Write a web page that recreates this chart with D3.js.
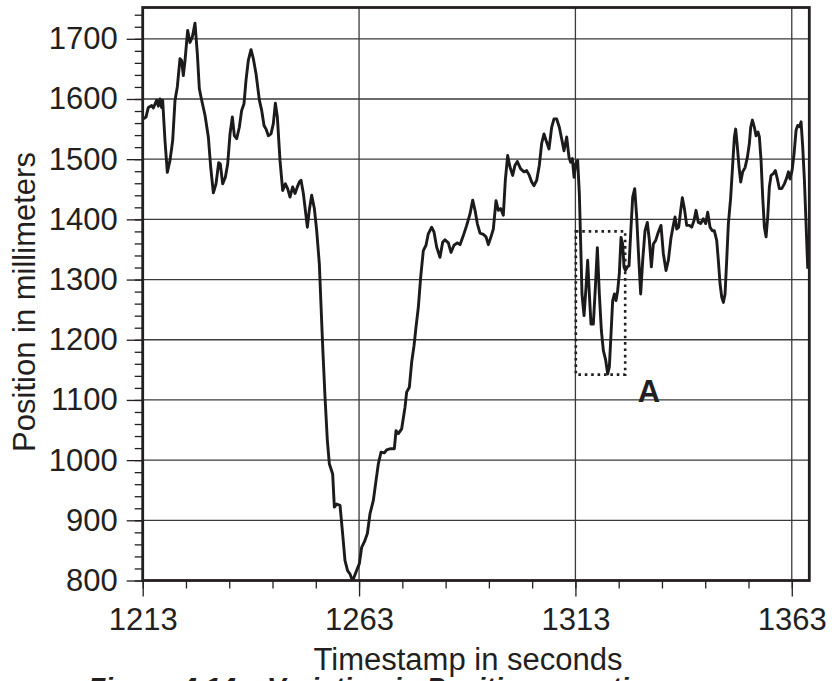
<!DOCTYPE html>
<html>
<head>
<meta charset="utf-8">
<title>Position in millimeters</title>
<script src="https://cdn.jsdelivr.net/npm/d3@7"></script>
<style>
  html, body { margin: 0; padding: 0; background: #fff; }
  svg { display: block; }
  text { font-family: "Liberation Sans", Arial, sans-serif; fill: #231f20; }
</style>
</head>
<body>
<div id="chart"></div>
<script>
  "use strict"

  // samples, seconds / millimetres
  var timeSec = [
    1213.15, 1213.76, 1214.3, 1215.07, 1215.46, 1216.23, 1216.61, 1217.0, 1217.38, 1217.61
  , 1218.15, 1218.69, 1219.31, 1219.93, 1220.47, 1221.0, 1221.62, 1222.0, 1222.39, 1222.78
  , 1223.39, 1223.93, 1224.47, 1225.09, 1225.63, 1226.09, 1226.63, 1227.4, 1228.17, 1228.71
  , 1229.33, 1229.94, 1230.56, 1230.94, 1231.48, 1232.1, 1232.64, 1233.18, 1233.72, 1234.18
  , 1234.72, 1235.33, 1235.87, 1236.41, 1236.87, 1237.41, 1238.03, 1238.57, 1239.19, 1239.96
  , 1240.5, 1241.04, 1241.5, 1242.04, 1242.65, 1243.19, 1243.66, 1244.12, 1244.73, 1245.35
  , 1245.97, 1246.5, 1247.04, 1247.66, 1248.2, 1248.74, 1249.2, 1249.59, 1250.13, 1250.51
    // the big dip
  , 1251.05, 1251.5, 1252.05, 1252.67, 1253.2, 1253.82, 1254.13, 1254.6, 1255.13, 1255.67
  , 1256.13, 1256.9, 1257.29, 1257.83, 1258.6, 1259.2, 1259.75, 1260.37, 1260.9, 1261.5
  , 1262.3, 1263.07, 1263.6, 1264.22, 1264.92, 1265.53, 1266.3, 1266.92, 1267.46, 1268.07
  , 1268.84, 1269.38, 1270.31, 1271.16, 1271.54, 1272.08, 1272.85, 1273.62, 1274.0, 1274.62
  , 1275.16, 1275.7, 1276.16, 1276.7
    // climb back
  , 1277.24, 1277.85, 1278.47, 1279.0, 1279.78, 1280.32, 1280.93, 1281.7, 1282.32, 1282.86
  , 1283.63, 1284.25, 1284.94, 1285.71, 1286.33, 1287.1, 1287.87, 1288.64, 1289.26, 1289.8
  , 1290.33, 1290.95, 1291.72, 1292.34, 1292.88, 1293.49, 1294.03, 1294.65, 1295.19, 1295.73
  , 1296.34, 1296.8, 1297.34, 1297.88, 1298.5, 1299.04, 1299.58, 1300.35, 1301.12, 1301.74
  , 1302.35, 1302.89, 1303.43, 1304.05, 1304.66, 1305.2, 1305.74, 1306.36, 1306.9, 1307.51
  , 1308.05, 1308.67, 1309.28, 1309.82, 1310.36, 1310.98, 1311.52, 1311.9, 1312.29, 1312.68
  , 1313.06, 1313.52
    // region A and after
  , 1313.91, 1314.22, 1314.52, 1314.99, 1315.45, 1315.83, 1316.22, 1316.6, 1317.14, 1317.61
  , 1318.07, 1318.53, 1319.0, 1319.46, 1320.0, 1320.46, 1320.84, 1321.23, 1321.61, 1322.0
  , 1322.38, 1322.77, 1323.15, 1323.54, 1323.92, 1324.23, 1324.54, 1325.0, 1325.39, 1325.85
  , 1326.24, 1326.7, 1327.16, 1327.62, 1328.08, 1328.55, 1329.08, 1329.62, 1330.09, 1330.55
  , 1331.01, 1331.55, 1332.17, 1332.78, 1333.32, 1333.94, 1334.48, 1335.1, 1335.63, 1336.02
  , 1336.41, 1336.87, 1337.33, 1337.71, 1338.18, 1338.72, 1339.33, 1339.87, 1340.41, 1340.87
  , 1341.41, 1341.95, 1342.57, 1343.11, 1343.57, 1344.11, 1344.65, 1345.11, 1345.65, 1346.03
  , 1346.42, 1346.81, 1347.19, 1347.58, 1347.96
    // last stretch
  , 1348.35, 1348.89, 1349.35, 1349.74, 1350.04, 1350.43, 1350.81, 1351.2, 1351.66, 1352.2
  , 1352.74, 1353.2, 1353.51, 1353.9, 1354.36, 1354.74, 1355.2, 1355.51, 1355.9, 1356.28
  , 1356.67, 1357.06, 1357.44, 1357.82, 1358.21, 1358.75, 1359.21, 1359.67, 1360.13, 1360.68
  , 1361.29, 1361.83, 1362.22, 1362.6, 1363.06, 1363.53, 1363.99, 1364.37, 1364.76, 1365.15
  , 1365.53, 1365.92, 1366.3, 1366.69
  ]

  var positionMm = [
    1567, 1570, 1586, 1589, 1585, 1598, 1588, 1600, 1586, 1598
  , 1531, 1478, 1498, 1531, 1598, 1620, 1667, 1664, 1639, 1664
  , 1714, 1694, 1703, 1726, 1675, 1617, 1598, 1573, 1537, 1487
  , 1444, 1459, 1494, 1492, 1459, 1470, 1492, 1542, 1570, 1539
  , 1534, 1553, 1581, 1592, 1631, 1664, 1682, 1667, 1642, 1598
  , 1581, 1556, 1550, 1539, 1542, 1559, 1593, 1570, 1498, 1448
  , 1459, 1451, 1437, 1454, 1443, 1454, 1462, 1465, 1443, 1420

  , 1387, 1415, 1440, 1418, 1382, 1326, 1271, 1188, 1105, 1033
  , 994, 977, 922, 927, 925, 878, 833, 816, 811, 799
  , 814, 828, 855, 864, 878, 911, 933, 966, 994, 1013
  , 1012, 1017, 1019, 1019, 1049, 1044, 1052, 1088, 1113, 1121
  , 1163, 1190, 1221, 1254

  , 1304, 1348, 1357, 1376, 1387, 1379, 1354, 1337, 1362, 1366
  , 1361, 1345, 1357, 1361, 1358, 1373, 1390, 1409, 1432, 1415
  , 1393, 1377, 1375, 1371, 1358, 1371, 1384, 1431, 1415, 1418
  , 1407, 1465, 1506, 1487, 1473, 1490, 1496, 1484, 1479, 1481
  , 1473, 1462, 1456, 1465, 1490, 1526, 1542, 1528, 1517, 1553
  , 1567, 1567, 1553, 1534, 1514, 1537, 1503, 1495, 1501, 1470
  , 1492, 1498

  , 1442, 1359, 1276, 1240, 1287, 1332, 1276, 1226, 1226, 1287
  , 1353, 1276, 1215, 1182, 1166, 1143, 1155, 1210, 1265, 1276
  , 1265, 1282, 1310, 1370, 1359, 1321, 1315, 1321, 1323, 1387
  , 1437, 1451, 1404, 1337, 1276, 1332, 1381, 1395, 1365, 1321
  , 1359, 1365, 1379, 1390, 1343, 1315, 1332, 1370, 1390, 1404
  , 1384, 1387, 1415, 1436, 1418, 1390, 1390, 1387, 1398, 1415
  , 1395, 1393, 1401, 1393, 1412, 1387, 1381, 1381, 1365, 1332
  , 1293, 1271, 1262, 1276, 1332

  , 1393, 1437, 1492, 1537, 1550, 1520, 1487, 1462, 1479, 1486
  , 1503, 1526, 1553, 1565, 1553, 1539, 1545, 1537, 1498, 1437
  , 1387, 1371, 1404, 1454, 1473, 1476, 1481, 1467, 1451, 1451
  , 1459, 1469, 1479, 1467, 1481, 1509, 1548, 1556, 1554, 1562
  , 1520, 1465, 1393, 1318
  ]

  var xDomain = [1213, 1367.05]
    , yDomain = [800, 1752]
    , xMajorTicks = [1213, 1263, 1313, 1363]
    , xMinorTicks = d3.range(1213, 1367, 10)
    , yMajorTicks = d3.range(800, 1701, 100)
    , yMinorTicks = d3.range(800, 1752, 20)

  // dotted box round the region marked A: [t0, t1], [v0, v1]
  var boxTime = [1313.1, 1324.5]
    , boxPos = [1142, 1380]
    , boxLabel = "A"
    , boxLabelAt = [1330, 1096]

  var xTitle = "Timestamp in seconds"
    , yTitle = "Position in millimeters"
    , caption = "Figure 4.14 \u2013  Variation in Position over time"


 /* SETUP
  * =============================== */

  var width = 834
    , height = 681
    , margin = {top: 7.5, right: 24.7, bottom: 100.5, left: 142.7}
    , x0 = margin.left
    , x1 = width - margin.right
    , y0 = height - margin.bottom
    , y1 = margin.top
    , ink = "#231f20"

  var x = d3.scaleLinear().domain(xDomain).range([x0, x1])
    , y = d3.scaleLinear().domain(yDomain).range([y0, y1])

  var svg = d3.select("#chart")
    .append("svg")
    .attr("width", width)
    .attr("height", height)

  svg.append("defs")
    .append("clipPath")
      .attr("id", "plot-clip")
      .append("rect")
        .attr("x", x0)
        .attr("y", y1)
        .attr("width", x1 - x0)
        .attr("height", y0 - y1)


 /* GRID
  * =============================== */

  svg.append("g")
    .selectAll("line")
      .data(yMajorTicks.slice(1))
    .enter().append("line")
      .attr("x1", x0)
      .attr("x2", x1)
      .attr("y1", function (d) { return y(d) })
      .attr("y2", function (d) { return y(d) })
      .attr("stroke", "#3a3a3a")
      .attr("stroke-width", 1.3)

  svg.append("g")
    .selectAll("line")
      .data(xMajorTicks.slice(1))
    .enter().append("line")
      .attr("x1", function (d) { return x(d) })
      .attr("x2", function (d) { return x(d) })
      .attr("y1", y1)
      .attr("y2", y0)
      .attr("stroke", "#3a3a3a")
      .attr("stroke-width", 1.3)


 /* AXES
  * =============================== */

  function styleAxis (g) {
    g.select(".domain").remove()
    g.selectAll(".tick line").attr("stroke", ink).attr("stroke-width", 1.3)
    g.selectAll(".tick text")
      .style("font-size", "31px")
      .attr("fill", ink)
  }

  svg.append("g")
    .attr("transform", "translate(0," + y0 + ")")
    .call(d3.axisBottom(x).tickValues(xMinorTicks).tickSize(8).tickFormat(""))
    .call(styleAxis)

  svg.append("g")
    .attr("transform", "translate(0," + y0 + ")")
    .call(d3.axisBottom(x).tickValues(xMajorTicks).tickSize(16).tickPadding(11).tickFormat(d3.format("d")))
    .call(styleAxis)

  svg.append("g")
    .attr("transform", "translate(" + x0 + ",0)")
    .call(d3.axisLeft(y).tickValues(yMinorTicks).tickSize(8).tickFormat(""))
    .call(styleAxis)

  svg.append("g")
    .attr("transform", "translate(" + x0 + ",0)")
    .call(d3.axisLeft(y).tickValues(yMajorTicks).tickSize(16).tickPadding(9).tickFormat(d3.format("d")))
    .call(styleAxis)


 /* TRACE
  * =============================== */

  var points = d3.zip(timeSec, positionMm)

  var line = d3.line()
    .x(function (d) { return x(d[0]) })
    .y(function (d) { return y(d[1]) })

  svg.append("path")
    .datum(points)
    .attr("clip-path", "url(#plot-clip)")
    .attr("d", line)
    .attr("fill", "none")
    .attr("stroke", "#1c1a1b")
    .attr("stroke-width", 2.9)
    .attr("stroke-linejoin", "round")

  // region A
  svg.append("rect")
    .attr("x", x(boxTime[0]))
    .attr("y", y(boxPos[1]))
    .attr("width", x(boxTime[1]) - x(boxTime[0]))
    .attr("height", y(boxPos[0]) - y(boxPos[1]))
    .attr("fill", "none")
    .attr("stroke", ink)
    .attr("stroke-width", 2.6)
    .attr("stroke-dasharray", "2.6,3.8")

  svg.append("text")
    .attr("x", x(boxLabelAt[0]))
    .attr("y", y(boxLabelAt[1]))
    .attr("text-anchor", "middle")
    .style("font-size", "31px")
    .style("font-weight", "bold")
    .text(boxLabel)

  // frame on top of everything
  svg.append("rect")
    .attr("x", x0)
    .attr("y", y1)
    .attr("width", x1 - x0)
    .attr("height", y0 - y1)
    .attr("fill", "none")
    .attr("stroke", ink)
    .attr("stroke-width", 2.8)


 /* TITLES
  * =============================== */

  svg.append("text")
    .attr("x", 468)
    .attr("y", 670)
    .attr("text-anchor", "middle")
    .style("font-size", "31px")
    .text(xTitle)

  svg.append("text")
    .attr("transform", "translate(35," + ((y0 + y1) / 2 + 8) + ") rotate(-90)")
    .attr("text-anchor", "middle")
    .style("font-size", "31px")
    .text(yTitle)

  // caption runs off the bottom edge, as in the source
  svg.append("text")
    .attr("x", 88)
    .attr("y", 697)
    .style("font-size", "28px")
    .style("font-weight", "bold")
    .style("font-style", "italic")
    .text(caption)

</script>
</body>
</html>
